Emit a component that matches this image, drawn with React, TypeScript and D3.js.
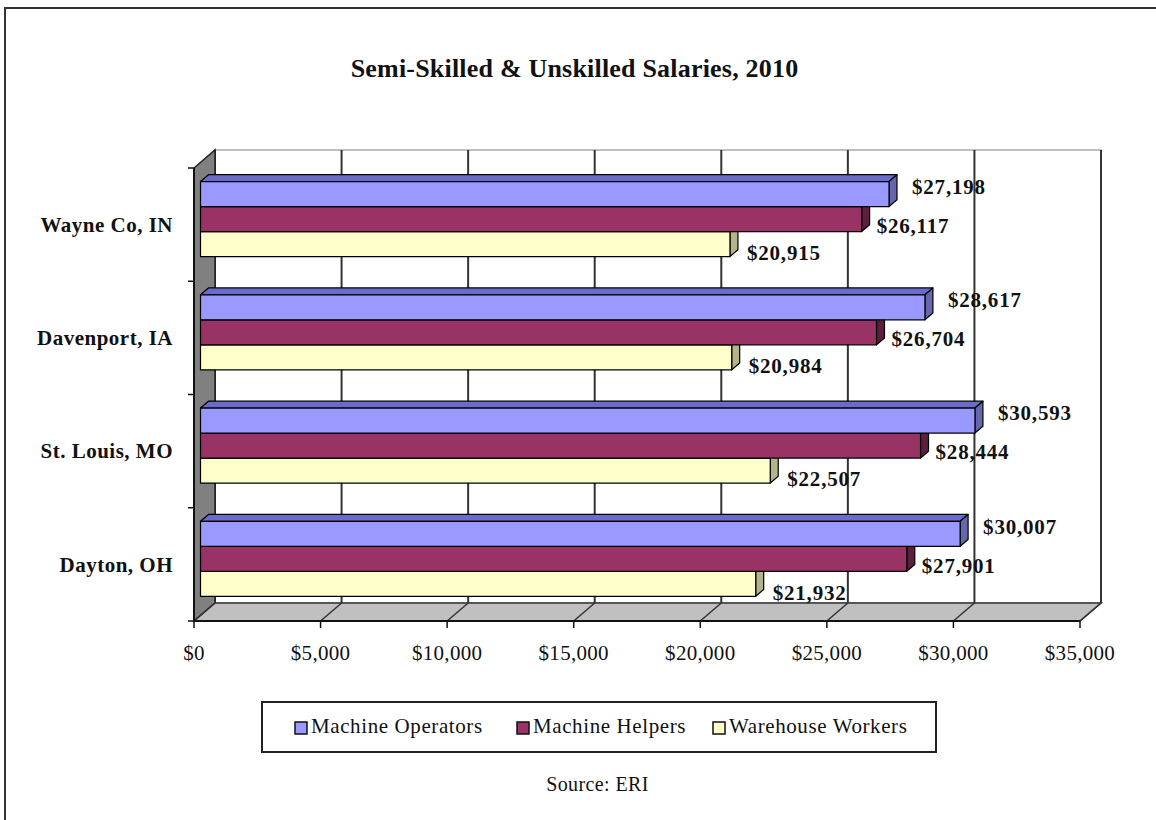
import React from "react";
import * as d3 from "d3";

const categories = ["Wayne Co, IN", "Davenport, IA", "St. Louis, MO", "Dayton, OH"];
const seriesNames = ["Machine Operators", "Machine Helpers", "Warehouse Workers"];
const machineOperators = [27198, 28617, 30593, 30007];
const machineHelpers = [26117, 26704, 28444, 27901];
const warehouseWorkers = [20915, 20984, 22507, 21932];
const xTicks = [0, 5000, 10000, 15000, 20000, 25000, 30000, 35000];
const titleText = "Semi-Skilled & Unskilled Salaries, 2010";
const sourceText = "Source: ERI";

const seriesValues = [machineOperators, machineHelpers, warehouseWorkers];
const frontColors = ["#9999FF", "#993366", "#FFFFCC"];
const topColors = ["#6B6BCC", "#6E2448", "#CCCC99"];
const sideColors = ["#6666AA", "#5E1E3D", "#B3B38C"];
const labelDx = [23, 15, 17];
const labelDy = [-7.5, 6.5, 8.5];
const legendX = [295, 517, 713];

const W = 1156;
const H = 820;
const DX = 21;
const DY = 18;
const Z0 = 0.31;
const Z1 = 0.69;
const SERIF = "'Liberation Serif', 'Times New Roman', serif";

export default function App() {
  const x = d3.scaleLinear().domain([0, 35000]).range([194, 1080]);
  const y = d3.scaleBand().domain(categories).range([168, 621]);
  const bw = y.bandwidth();
  const sub = d3
    .scaleBand<number>()
    .domain([0, 1, 2])
    .range([bw * 0.169, bw * 0.831]);
  const fmt = d3.format("$,");

  const xL = x(0);
  const xR = x(35000);
  const yT = 168;
  const yB = 621;
  const pt = (px: number, py: number, z: number) => [px + DX * z, py - DY * z];
  const poly = (pts: number[][]) => pts.map((p) => p.join(",")).join(" ");

  const bars: React.ReactNode[] = [];
  const labels: React.ReactNode[] = [];
  categories.forEach((c, ci) => {
    for (let si = 2; si >= 0; si--) {
      const v = seriesValues[si][ci];
      const yt = (y(c) as number) + (sub(si) as number);
      const yb = yt + sub.bandwidth();
      const x0 = x(0);
      const x1 = x(v);
      const fTL = pt(x0, yt, Z0);
      const fTR = pt(x1, yt, Z0);
      const fBR = pt(x1, yb, Z0);
      const fBL = pt(x0, yb, Z0);
      const bTL = pt(x0, yt, Z1);
      const bTR = pt(x1, yt, Z1);
      const bBR = pt(x1, yb, Z1);
      bars.push(
        <g key={`b${ci}-${si}`} stroke="#000" strokeWidth={1.2} strokeLinejoin="round">
          <polygon points={poly([fTL, fTR, bTR, bTL])} fill={topColors[si]} />
          <polygon points={poly([fTR, bTR, bBR, fBR])} fill={sideColors[si]} />
          <polygon points={poly([fTL, fTR, fBR, fBL])} fill={frontColors[si]} />
        </g>
      );
      labels.push(
        <text
          key={`l${ci}-${si}`}
          x={fTR[0] + labelDx[si]}
          y={(fTR[1] + fBR[1]) / 2 + labelDy[si]}
          dy="0.35em"
          fontFamily={SERIF}
          fontWeight="bold"
          fontSize={21}
          letterSpacing={0.8}
          fill="#111"
        >
          {fmt(v)}
        </text>
      );
    }
  });

  return (
    <svg
      width={W}
      height={H}
      style={{ position: "absolute", left: 0, top: 0, background: "#fff" }}
    >
      <rect x={0} y={0} width={W} height={H} fill="#fff" />
      <rect x={5} y={8} width={W + 20} height={H + 20} fill="#fff" stroke="#333" strokeWidth={2} />

      <text
        x={574.5}
        y={77}
        textAnchor="middle"
        fontFamily={SERIF}
        fontWeight="bold"
        fontSize={26}
        letterSpacing={0.2}
        fill="#111"
      >
        {titleText}
      </text>

      {/* back wall */}
      <rect
        x={xL + DX}
        y={yT - DY}
        width={xR - xL}
        height={yB - yT}
        fill="#fff"
        stroke="#aaa"
        strokeWidth={1.5}
      />
      {/* gridlines on back wall */}
      {xTicks.map((t) => (
        <line
          key={`g${t}`}
          x1={x(t) + DX}
          x2={x(t) + DX}
          y1={yT - DY}
          y2={yB - DY}
          stroke="#333"
          strokeWidth={2}
        />
      ))}
      {/* side wall */}
      <polygon
        points={poly([pt(xL, yT, 0), pt(xL, yT, 1), pt(xL, yB, 1), pt(xL, yB, 0)])}
        fill="#808080"
        stroke="#222"
        strokeWidth={1.5}
      />
      {/* floor */}
      <polygon
        points={poly([pt(xL, yB, 0), pt(xL, yB, 1), pt(xR, yB, 1), pt(xR, yB, 0)])}
        fill="#C0C0C0"
        stroke="#333"
        strokeWidth={1.5}
      />
      {xTicks.map((t) => (
        <line
          key={`f${t}`}
          x1={x(t)}
          y1={yB}
          x2={x(t) + DX}
          y2={yB - DY}
          stroke="#333"
          strokeWidth={1.5}
        />
      ))}
      {/* axes */}
      <line x1={xL} x2={xL} y1={yT} y2={yB} stroke="#111" strokeWidth={2} />
      <line x1={xL} x2={xR} y1={yB} y2={yB} stroke="#111" strokeWidth={2} />
      {[...categories.map((c) => y(c) as number), yB].map((yy, i) => (
        <line key={`yt${i}`} x1={xL - 6} x2={xL} y1={yy} y2={yy} stroke="#111" strokeWidth={1.5} />
      ))}
      {xTicks.map((t) => (
        <g key={`xt${t}`}>
          <line x1={x(t)} x2={x(t)} y1={yB} y2={yB + 7} stroke="#111" strokeWidth={1.5} />
          <text
            x={x(t)}
            y={660}
            textAnchor="middle"
            fontFamily={SERIF}
            fontSize={21}
            letterSpacing={0.3}
            fill="#111"
          >
            {fmt(t)}
          </text>
        </g>
      ))}
      {categories.map((c) => (
        <text
          key={`c${c}`}
          x={173}
          y={(y(c) as number) + bw / 2}
          dy="0.35em"
          textAnchor="end"
          fontFamily={SERIF}
          fontWeight="bold"
          fontSize={21}
          letterSpacing={0.5}
          fill="#111"
        >
          {c}
        </text>
      ))}

      {bars}
      {labels}

      {/* legend */}
      <rect x={262} y={702} width={674} height={50} fill="#fff" stroke="#222" strokeWidth={2} />
      {seriesNames.map((s, i) => (
        <g key={`lg${i}`}>
          <rect
            x={legendX[i]}
            y={722}
            width={12}
            height={12}
            fill={frontColors[i]}
            stroke="#111"
            strokeWidth={1.5}
          />
          <text
            x={legendX[i] + 16}
            y={733}
            fontFamily={SERIF}
            fontSize={21}
            letterSpacing={0.6}
            fill="#111"
          >
            {s}
          </text>
        </g>
      ))}

      <text
        x={597.5}
        y={791}
        textAnchor="middle"
        fontFamily={SERIF}
        fontSize={20}
        letterSpacing={0.4}
        fill="#111"
      >
        {sourceText}
      </text>
    </svg>
  );
}
